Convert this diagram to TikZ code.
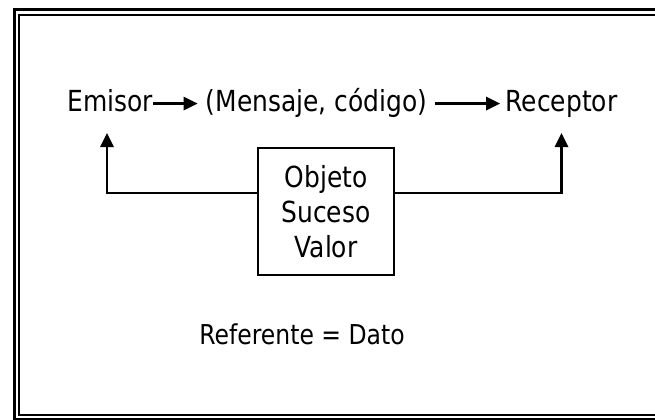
\documentclass[tikz,border=0pt]{standalone}
\usepackage{fontspec}
\setmainfont{DejaVu Sans}[FakeStretch=0.86]
\usetikzlibrary{arrows.meta}

\tikzset{
  texto/.style={font=\fontsize{21.75}{26.25}\selectfont, inner xsep=0pt, inner ysep=0pt, text height=16pt, text depth=4.8pt},
  flecha/.style={line width=1.7pt, -{Triangle[length=10.5pt,width=10pt]}},
  caja/.style={draw, line width=1.6pt, minimum width=102pt, minimum height=95.25pt, align=center, font=\fontsize{21.75}{26.25}\selectfont}
}

\begin{document}
\begin{tikzpicture}[x=0.75pt,y=-0.75pt]
\useasboundingbox (0,0) rectangle (655,419);
% marco doble
\draw[line width=2.25pt] (14.5,9.5) rectangle (700,419.5);
\draw[line width=1.5pt] (18.5,15) rectangle (700,415);

\node[texto,anchor=base] (emisor) at (110,111) {Emisor};
\node[texto,anchor=base] (mensaje) at (316.5,111) {(Mensaje, código)};
\node[texto,anchor=base] (receptor) at (561.5,111) {Receptor};
\node[caja] (objeto) at (326,211.5) {Objeto\\Suceso\\Valor};
\node[texto,anchor=base,font=\fontsize{20.5}{24}\selectfont] (referente) at (302,344) {Referente = Dato};

\draw[flecha,shorten >=6pt] (emisor) -- (mensaje);
\draw[flecha,shorten <=6pt,shorten >=4pt] (mensaje) -- (receptor);
\draw[flecha,shorten >=11.5pt] ([yshift=13.9pt]objeto.west) -| ([xshift=-2.25pt]emisor.south);
\draw[flecha,shorten >=11.5pt] ([yshift=13.9pt]objeto.east) -| (receptor.south);

\end{tikzpicture}
\end{document}
